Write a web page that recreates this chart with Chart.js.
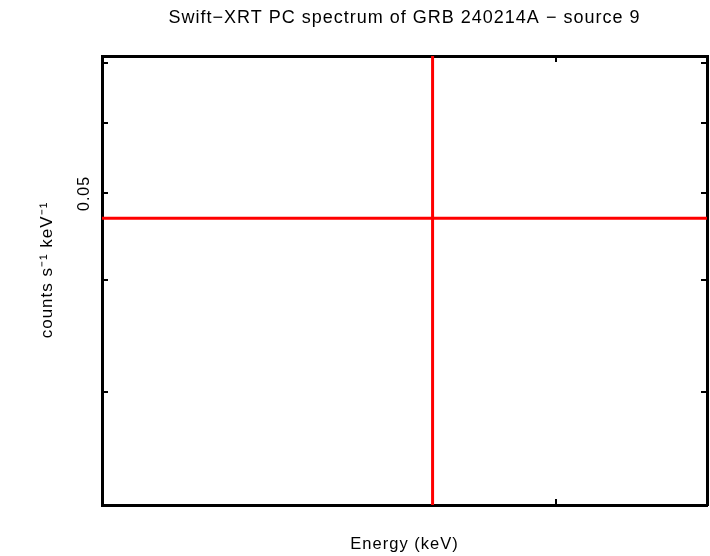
<!DOCTYPE html>
<html>
<head>
<meta charset="utf-8">
<script src="https://cdn.jsdelivr.net/npm/chart.js@4.4.1/dist/chart.umd.min.js"></script>
<style>
  html, body { margin: 0; padding: 0; background: #ffffff; }
  #wrap { width: 710px; height: 556px; position: relative; }
</style>
</head>
<body>
<div id="wrap"><canvas id="c"></canvas></div>
<script>
// ---- data ----
const chartTitle = "Swift\u2212XRT PC spectrum of GRB 240214A \u2212 source 9";
const xLabel = "Energy (keV)";
const yLabel = "counts s\u207B\u00B9 keV\u207B\u00B9";
const energy = [1.70];          // keV, bin centre
const energyLo = [1.0];         // bin lower edge (beyond plot)
const energyHi = [3.0];         // bin upper edge (beyond plot)
const rate = [0.0469];          // counts s^-1 keV^-1
const rateLo = [0.015];         // error bar extends past plot
const rateHi = [0.09];
const xRange = [1.10, 2.44];
const yRange = [0.02241, 0.07123];
const xTickValues = [2];
const yTickValues = [0.03, 0.04, 0.05, 0.06, 0.07];
const yTickLabels = ["", "", "0.05", "", ""];

const FONT = "'Liberation Sans', Arial, Helvetica, sans-serif";

const datasets = [];
energy.forEach((e, i) => {
  datasets.push({
    data: [{x: energyLo[i], y: rate[i]}, {x: energyHi[i], y: rate[i]}],
    borderColor: '#ff0000', borderWidth: 3, pointRadius: 0, showLine: true, fill: false
  });
  datasets.push({
    data: [{x: e, y: rateLo[i]}, {x: e, y: rateHi[i]}],
    borderColor: '#ff0000', borderWidth: 3, pointRadius: 0, showLine: true, fill: false
  });
});

function setTicks(values) {
  return function(scale) { scale.ticks = values.map(v => ({value: v})); };
}
const inwardGrid = {
  display: true, drawOnChartArea: false, drawTicks: true, tickLength: -6,
  lineWidth: 2, color: '#000000'
};
const frameBorder = { display: true, color: '#000000', width: 3 };

const spacingPlugin = {
  id: 'spacing',
  beforeDraw(chart) { chart.ctx.letterSpacing = '1px'; }
};

const textPlugin = {
  id: 'axisTexts',
  afterDraw(chart) {
    const ctx = chart.ctx;
    const ys = chart.scales.y;
    ctx.save();
    ctx.letterSpacing = '1px';
    ctx.fillStyle = '#000000';
    ctx.textAlign = 'center';
    ctx.textBaseline = 'middle';
    ctx.font = "16px " + FONT;
    yTickValues.forEach((v, i) => {
      if (!yTickLabels[i]) return;
      const py = ys.getPixelForValue(v);
      ctx.save();
      ctx.translate(85, py);
      ctx.rotate(-Math.PI / 2);
      ctx.fillText(yTickLabels[i], 0, 0);
      ctx.restore();
    });
    ctx.font = "17px " + FONT;
    ctx.save();
    ctx.translate(47, 270);
    ctx.rotate(-Math.PI / 2);
    ctx.fillText(yLabel, 0, 0);
    ctx.restore();
    ctx.restore();
  }
};

new Chart(document.getElementById('c'), {
  type: 'scatter',
  data: { datasets },
  options: {
    responsive: true,
    maintainAspectRatio: false,
    animation: false,
    layout: { padding: { top: 0, right: 3, bottom: 0, left: 0 } },
    plugins: {
      legend: { display: false },
      tooltip: { enabled: false },
      title: {
        display: true, text: chartTitle, color: '#000000', fullSize: false,
        font: { family: FONT, size: 18, weight: 'normal', lineHeight: 1.2 },
        padding: { top: 7, bottom: 27.4 }
      }
    },
    scales: {
      x: {
        type: 'logarithmic', position: 'bottom', min: xRange[0], max: xRange[1],
        afterBuildTicks: setTicks(xTickValues),
        afterFit(s) { s.height = 51; },
        ticks: { display: false },
        grid: inwardGrid, border: frameBorder,
        title: { display: true, text: xLabel, color: '#000000',
          font: { family: FONT, size: 16.5, lineHeight: 1.2 }, padding: { top: 0, bottom: 2 } }
      },
      x2: {
        type: 'logarithmic', position: 'top', min: xRange[0], max: xRange[1],
        afterBuildTicks: setTicks(xTickValues),
        afterFit(s) { s.height = 0; },
        ticks: { display: false },
        grid: inwardGrid, border: frameBorder
      },
      y: {
        type: 'logarithmic', position: 'left', min: yRange[0], max: yRange[1],
        afterBuildTicks: setTicks(yTickValues),
        afterFit(s) { s.width = 102; },
        ticks: { display: false },
        grid: inwardGrid, border: frameBorder,
        title: { display: false }
      },
      y2: {
        type: 'logarithmic', position: 'right', min: yRange[0], max: yRange[1],
        afterBuildTicks: setTicks(yTickValues),
        afterFit(s) { s.width = 0; },
        ticks: { display: false },
        grid: inwardGrid, border: frameBorder
      }
    }
  },
  plugins: [spacingPlugin, textPlugin]
});
</script>
</body>
</html>
